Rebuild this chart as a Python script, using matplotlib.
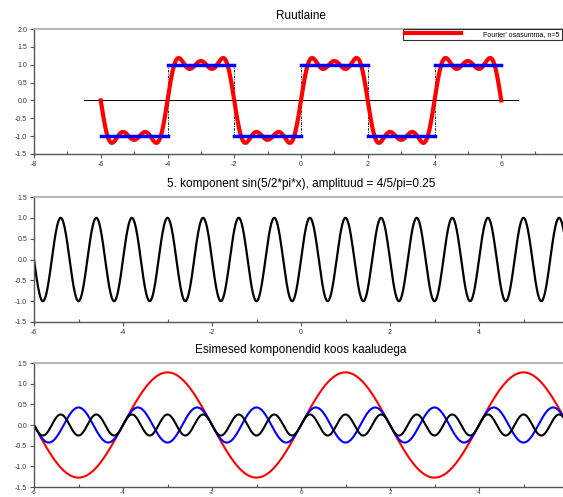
import numpy as np
import matplotlib
matplotlib.use("Agg")
import matplotlib.pyplot as plt
from matplotlib.ticker import MultipleLocator, FormatStrFormatter

plt.rcParams['font.family'] = ['Liberation Sans', 'DejaVu Sans']

# andmed: ruutlaine (periood 4) ja Fourier' rea esimesed liikmed
harmonics = [1, 3, 5]                      # k = 1, 3, 5
weights = [4 / (k * np.pi) for k in harmonics]   # 4/(k*pi)
comp_colors = ["red", "blue", "black"]
level_x0 = [-6, -4, -2, 0, 2, 4]           # ruutlaine lõigud
level_x1 = [-4, -2, 0, 2, 4, 6]
level_y = [-1, 1, -1, 1, -1, 1]
jumps = [-4, -2, 0, 2, 4]                  # hüpete kohad
axis_line = [-6.5, 6.5]
ticks_top = [-8, -6, -4, -2, 0, 2, 4, 6]
ticks_low = [-6, -4, -2, 0, 2, 4]
legend_text = "Fourier' osasumma, n=5"

x = np.linspace(-6, 6, 1200)
partial = sum(w * np.sin(k * np.pi * x / 2) for k, w in zip(harmonics, weights))

W, H = 563, 497
fig = plt.figure(figsize=(W / 100, H / 100), dpi=100)


def style(ax, xticks):
    for s in ["left", "bottom"]:
        ax.spines[s].set_color("#555555")
        ax.spines[s].set_linewidth(1.0)
    ax.spines["top"].set_color("#aaaaaa")
    ax.spines["top"].set_linewidth(1.2)
    ax.spines["right"].set_visible(False)
    ax.set_xticks(xticks)
    ax.xaxis.set_minor_locator(MultipleLocator(1))
    ax.yaxis.set_major_locator(MultipleLocator(0.5))
    ax.yaxis.set_major_formatter(FormatStrFormatter("%.1f"))
    ax.xaxis.set_major_formatter(FormatStrFormatter("%d"))
    ax.tick_params(which="major", direction="out", length=3, width=0.8,
                   color="#555555", labelsize=5, labelcolor="#333333", pad=2)
    ax.tick_params(which="minor", axis="x", direction="in", length=2, width=0.8,
                   color="#555555")
    ax.tick_params(top=False, right=False)


left = 34 / W
width = 534 / W

# 1. ruutlaine
ax1 = fig.add_axes([left, 1 - 154 / H, width, 125 / H])
ax1.plot(axis_line, [0, 0], color="black", lw=0.7)
for xj in jumps:
    ax1.plot([xj, xj], [-1, 1], color="black", lw=0.6, ls=(0, (3, 1.5, 1, 1.5)))
ax1.plot(x, partial, color="red", lw=3, label=legend_text, zorder=3)
for a, b, lv in zip(level_x0, level_x1, level_y):
    ax1.plot([a, b], [lv, lv], color="blue", lw=2.5, zorder=4)
ax1.set_xlim(-8, 8)
ax1.set_ylim(-1.5, 2.0)
style(ax1, ticks_top)
ax1.set_title("Ruutlaine", fontsize=8.5, pad=7)
leg = ax1.legend(loc="upper right", bbox_to_anchor=(562 / W, 1 - 28.5 / H),
                 bbox_transform=fig.transFigure, fontsize=5, frameon=True,
                 fancybox=False, edgecolor="black", handlelength=8,
                 borderpad=0.35, handletextpad=3.2, borderaxespad=0)
leg.get_frame().set_linewidth(0.8)

# 2. viies komponent
ax2 = fig.add_axes([left, 1 - 322 / H, width, 125 / H])
ax2.plot(x, np.sin(harmonics[2] * np.pi * x / 2), color="black", lw=1.6)
ax2.set_xlim(-6, 6)
ax2.set_ylim(-1.5, 1.5)
style(ax2, ticks_low)
ax2.set_title("5. komponent sin(5/2*pi*x), amplituud = 4/5/pi=0.25", fontsize=8.5, pad=7)

# 3. komponendid koos kaaludega
ax3 = fig.add_axes([left, 1 - 487 / H, width, 124 / H])
for k, w, c in zip(harmonics, weights, comp_colors):
    ax3.plot(x, w * np.sin(k * np.pi * x / 2), color=c, lw=1.5)
ax3.set_xlim(-6, 6)
ax3.set_ylim(-1.5, 1.5)
style(ax3, ticks_low)
ax3.tick_params(axis="x", which="major", length=2, pad=0, labelsize=4.5)
ax3.set_title("Esimesed komponendid koos kaaludega", fontsize=8.5, pad=7)

fig.savefig("out.png", dpi=100)
